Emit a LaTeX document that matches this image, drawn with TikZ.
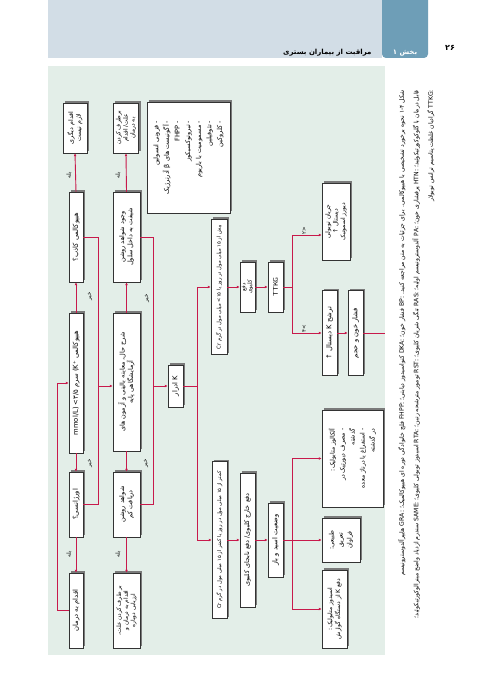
\documentclass[tikz,border=0pt]{standalone}
\usepackage{fontspec}
\usetikzlibrary{arrows.meta,calc}
\TeXXeTstate=1
\newfontfamily\ar[Script=Arabic]{DejaVu Sans}
\newcommand{\fa}[1]{\beginR #1\endR}
\newcommand{\fsz}[2]{\ar\fontsize{#1}{#2}\selectfont}
\definecolor{crim}{HTML}{C8194B}
\definecolor{panel}{HTML}{E3EEE8}
\definecolor{band}{HTML}{D2DDE6}
\definecolor{tabc}{HTML}{6E9EB7}
\definecolor{shadc}{HTML}{7A7A7A}
\pgfdeclarelayer{back}
\pgfdeclarelayer{shad}
\pgfsetlayers{back,shad,main}
\tikzset{
  bx/.style={draw=black!80, line width=.4pt, fill=white, rotate=90, inner sep=.8pt,
    align=center, font=\fsz{6.8}{8.2}},
  lbl/.style={rotate=90, inner sep=.3pt, font=\fsz{5.5}{6}},
  ln/.style={draw=crim, line width=.9pt},
  arr/.style={draw=crim, line width=.9pt, -{Latex[length=3pt,width=2.8pt]}},
  capt/.style={rotate=90, inner sep=0pt, align=right, font=\fsz{6.1}{14.5}}
}
\newcommand{\shad}[1]{\begin{pgfonlayer}{shad}\fill[shadc] ($(#1.north |- #1.east)+(1.8,-1.8)$) rectangle ($(#1.south |- #1.west)+(1.8,-1.8)$);\end{pgfonlayer}}
\begin{document}
\begin{tikzpicture}[x=1pt,y=-1pt]
\useasboundingbox (0,0) rectangle (500,700);
\begin{pgfonlayer}{back}
\fill[white] (0,0) rectangle (500,700);
\fill[band] (48,0) rectangle (382,58);
\fill[tabc,rounded corners=4pt] (382,-6) rectangle (428,58);
\fill[panel] (48,66) rectangle (385,655);
\end{pgfonlayer}
% header texts
\node[font=\ar\bfseries\fontsize{7}{8}\selectfont, anchor=base east] (title) at (375,55) {\fa{مراقبت از بیماران بستری}};
\node[font=\ar\bfseries\fontsize{7}{8}\selectfont, text=white, anchor=base] (sec) at (405,55) {\fa{بخش ۱}};
\node[font=\ar\bfseries\fontsize{8}{9}\selectfont, anchor=base] (pg) at (450,51) {\fa{۲۶}};
% caption
\node[capt, anchor=north east] (cap) at (398,90) {%
\fa{شکل ۱-۴ نحوه برخورد تشخیصی با هیپوکالمی. برای جزئیات به متن مراجعه کنید. BP: فشار خون؛ DKA: کتواسیدوز دیابتی؛ FHPP: فلج خانوادگی دوره ای هیپوکالمیک؛ GRA: هایپرآلدوسترونیسم}\\
\fa{قابل درمان با گلوکوکورتیکوئید؛ HTN: پرفشاری خون؛ PA: آلدوسترونیسم اولیه؛ RAS: تنگی شریان کلیوی؛ RST: تومور مترشحه رنین؛ RTA: اسیدوز توبولی کلیوی؛ SAME: سندرم ازدیاد واضح مینرالوکورتیکوئید؛}\\
\fa{TTKG: گرادیان غلظت پتاسیم ترانس توبولار}};
% column 1
\node[bx, minimum width=50pt, minimum height=24pt, font=\fsz{6.3}{7.8}] (nof) at (75,128) {\fa{اقدام دیگری}\\\fa{لازم نیست}};
\node[bx, minimum width=90pt, minimum height=14pt] (pseudo) at (76,237) {\fa{هیپوکالمی کاذب؟}};
\node[bx, minimum width=140pt, minimum height=14pt] (hypo) at (76,383) {\fa{هیپوکالمی (K⁺ سرم ۳/۵> mmol/L)}};
\node[bx, minimum width=65pt, minimum height=14pt] (emerg) at (76,504.5) {\fa{اورژانسی؟}};
\node[bx, minimum width=75pt, minimum height=14pt] (treat1) at (76,610.5) {\fa{اقدام به درمان}};
% column 2
\node[bx, minimum width=50pt, minimum height=25pt, font=\fsz{5.9}{7.2}] (treat2) at (126,128) {\fa{برطرف کردن}\\\fa{علت/ اقدام}\\\fa{به درمان}};
\node[bx, minimum width=90pt, minimum height=27pt, font=\fsz{6.5}{8.2}] (shift) at (126.5,237) {\fa{وجود شواهد روشن}\\\fa{شیفت به داخل سلول}};
\node[bx, minimum width=138pt, minimum height=27pt, font=\fsz{6.5}{8.2}] (hist) at (126.5,382) {\fa{شرح حال، معاینه بالینی و آزمون های}\\\fa{آزمایشگاهی پایه}};
\node[bx, minimum width=65pt, minimum height=27pt, font=\fsz{6.5}{8.2}] (intake) at (126.5,504.5) {\fa{شواهد روشن}\\\fa{دریافت کم}};
\node[bx, minimum width=75pt, minimum height=27pt, font=\fsz{5.8}{7.2}] (treat3) at (126.5,610.5) {\fa{بر طرف کردن علت،}\\\fa{اقدام به درمان و}\\\fa{ارزیابی دوباره}};
% list
\node[bx, minimum width=111pt, minimum height=83pt, align=right, inner sep=3pt, font=\fsz{6.5}{10.6}] (list) at (188.5,157.5) {%
\fa{- فزونی انسولین}\\\fa{- آگونیست های β آدرنرژیک}\\\fa{- FHPP}\\\fa{- تیروتوکسیکوز}\\\fa{- مسمومیت با باریوم}\\\fa{- تئوفیلین}\\\fa{- کلروکین}};
% urine K
\node[bx, minimum width=42pt, minimum height=15pt] (urineK) at (175.5,386) {\fa{K ادرار}};
% upper branch
\node[bx, minimum width=135pt, minimum height=16pt, font=\fsz{5.2}{6}] (gt15) at (219,287) {\fa{بیش از ۱۵ میلی مول در روز یا ۱۵> میلی مول در گرم Cr}};
\node[bx, minimum width=50pt, minimum height=15pt, font=\fsz{5.5}{6.2}] (renal) at (247.5,287) {\fa{دفع}\\\fa{کلیوی}};
\node[bx, minimum width=50pt, minimum height=15pt, font=\sffamily\fontsize{6.8}{7}\selectfont] (ttkg) at (275.5,287) {TTKG};
\node[bx, minimum width=77pt, minimum height=28pt, font=\fsz{6}{7.6}] (flow) at (336,221.5) {\fa{جریان توبولی}\\\fa{دیستال ↑}\\\fa{دیورز اسموتیک}};
\node[bx, minimum width=85pt, minimum height=15pt] (secr) at (329.5,333) {\fa{ترشح K دیستال ↑}};
\node[bx, minimum width=85pt, minimum height=15pt] (bpvol) at (355.5,333) {\fa{فشار خون و حجم}};
% lower branch
\node[bx, minimum width=157pt, minimum height=15pt, font=\fsz{5.2}{6}] (lt15) at (219.5,540) {\fa{کمتر از ۱۵ میلی مول در روز یا کمتر از ۱۵ میلی مول در گرم Cr}};
\node[bx, minimum width=134pt, minimum height=15pt, font=\fsz{6.5}{7}] (extra) at (247.5,540) {\fa{دفع خارج کلیوی/ دفع نابجای کلیوی}};
\node[bx, minimum width=74pt, minimum height=15pt] (acid) at (275.5,540) {\fa{وضعیت اسید و باز}};
\node[bx, minimum width=97pt, minimum height=61pt, align=right, inner sep=3pt, font=\fsz{6.2}{10}] (alk) at (352.5,458.5) {%
\fa{آلکالوز متابولیک:}\\\fa{- مصرف دیورتیک در}\\\fa{گذشته}\\\fa{- استفراغ یا درناژ معده}\\\fa{در گذشته}};
\node[bx, minimum width=44pt, minimum height=38pt, font=\fsz{6.2}{9}] (normal) at (341,540) {\fa{طبیعی:}\\\fa{تعریق}\\\fa{فراوان}};
\node[bx, minimum width=78pt, minimum height=25pt, font=\fsz{6}{8}] (acidosis) at (334.5,609) {\fa{اسیدوز متابولیک:}\\\fa{دفع K از دستگاه گوارش}};
% shadows
\foreach \n in {nof,pseudo,hypo,emerg,treat1,treat2,shift,hist,intake,treat3,list,urineK,gt15,renal,ttkg,flow,secr,bpvol,lt15,extra,acid,alk,normal,acidosis}{\shad{\n}}
% connectors column 1
\draw[arr] (hypo.west) -- (emerg.east);
\draw[arr] (hypo.east) -- (pseudo.west);
\draw[arr] (pseudo.east) -- (nof.west);
\draw[arr] (emerg.west) -- (treat1.east);
\draw[arr] (treat1.north) -- ++(-11,0) |- (hypo.north);
\coordinate (j1) at (98,386);
\draw[ln] (pseudo.south) -| (j1);
\draw[ln] (emerg.south) -| (j1);
\draw[arr] (j1) -- (j1 -| hist.north);
% connectors column 2
\draw[arr] (hist.east) -- (shift.west);
\draw[arr] (hist.west) -- (intake.east);
\draw[arr] (shift.east) -- (treat2.west);
\draw[arr] (intake.west) -- (treat3.east);
\coordinate (j2) at (153,386);
\draw[ln] (shift.south) -| (j2);
\draw[ln] (intake.south) -| (j2);
\draw[arr] (j2) -- (j2 -| urineK.north);
% urine K branches
\coordinate (j3) at (197,386);
\draw[ln] (urineK.south) -- (j3);
\draw[arr] (j3) |- (gt15.north);
\draw[arr] (j3) |- (lt15.north);
\draw[arr] (gt15.south) -- (renal.north);
\draw[arr] (renal.south) -- (ttkg.north);
\coordinate (j4) at (292,287);
\coordinate (j4a) at (292,235);
\coordinate (j4b) at (292,333);
\draw[ln] (ttkg.south) -- (j4);
\draw[arr] (j4) -- (j4a) -- (j4a -| flow.north);
\draw[arr] (j4) -- (j4b) -- (j4b -| secr.north);
\draw[arr] (secr.south) -- (bpvol.north);
\coordinate (cont) at (385,333);
\draw[ln] (bpvol.south) -- (cont);
\draw[arr] (lt15.south) -- (extra.north);
\draw[arr] (extra.south) -- (acid.north);
\coordinate (j5) at (292,540);
\coordinate (j5a) at (292,458.5);
\coordinate (j5b) at (292,609);
\draw[ln] (acid.south) -- (j5);
\draw[arr] (j5) -- (j5a) -- (j5a -| alk.north);
\draw[arr] (j5) -- (normal.north);
\draw[arr] (j5) -- (j5b) -- (j5b -| acidosis.north);
% labels
\node[lbl] (y1) at (69,175) {\fa{بله}};
\node[lbl] (y2) at (69,554) {\fa{بله}};
\node[lbl] (y3) at (118,175) {\fa{بله}};
\node[lbl] (y4) at (118,554) {\fa{بله}};
\node[lbl] (n1) at (90,296) {\fa{خیر}};
\node[lbl] (n2) at (90,463) {\fa{خیر}};
\node[lbl] (n3) at (147,298) {\fa{خیر}};
\node[lbl] (n4) at (146,463) {\fa{خیر}};
\node[lbl] (t1) at (304,231) {<۲};
\node[lbl] (t2) at (304,329) {>۴};
\end{tikzpicture}
\end{document}
